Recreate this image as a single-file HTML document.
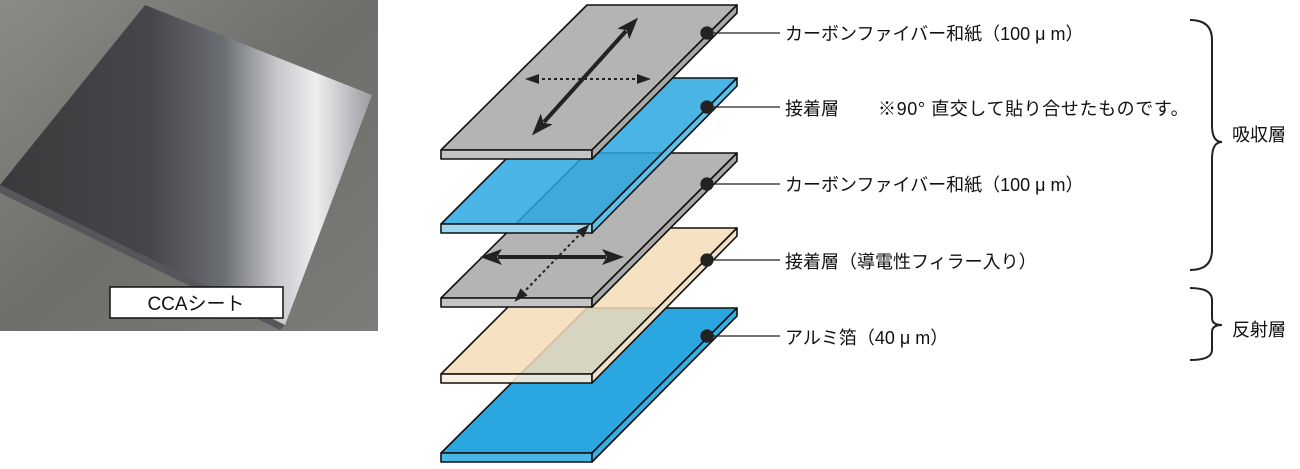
<!DOCTYPE html>
<html><head><meta charset="utf-8"><style>
html,body{margin:0;padding:0;background:#fff;width:1300px;height:469px;overflow:hidden}
svg{display:block}
text{font-family:"Liberation Sans","Noto Sans CJK JP",sans-serif;fill:#111}
</style></head><body>
<svg width="1300" height="469" viewBox="0 0 1300 469" xmlns="http://www.w3.org/2000/svg">
<defs>
<linearGradient id="bg" x1="0" y1="0" x2="1" y2="1">
<stop offset="0" stop-color="#8a8a86"/><stop offset="0.5" stop-color="#6e6e6a"/><stop offset="1" stop-color="#7c7c78"/></linearGradient>
<linearGradient id="foil" x1="0" y1="0" x2="1" y2="0">
<stop offset="0" stop-color="#3a3a3c"/><stop offset="0.4" stop-color="#45464a"/><stop offset="0.6" stop-color="#6a6d72"/><stop offset="0.75" stop-color="#c8cace"/><stop offset="0.85" stop-color="#eeeef0"/><stop offset="1" stop-color="#9a9ca0"/></linearGradient>
<marker id="ahB" markerUnits="userSpaceOnUse" markerWidth="22" markerHeight="16" refX="4" refY="8" orient="auto-start-reverse"><path d="M0,0 L22,8 L0,16 L5,8 Z" fill="#222"/></marker>
<marker id="ahS" markerUnits="userSpaceOnUse" markerWidth="14" markerHeight="10" refX="3" refY="5" orient="auto-start-reverse"><path d="M0,0 L14,5 L0,10 Z" fill="#222"/></marker>
</defs>
<rect x="0" y="0" width="378" height="331" fill="url(#bg)"/>
<polygon points="145,5 372,95 285,325 0,185" fill="url(#foil)"/>
<polygon points="0,185 285,325 280,330 0,193" fill="#55575a"/>
<rect x="110" y="287" width="173" height="31" fill="#fff" stroke="#111" stroke-width="1.5"/>
<text x="196" y="310" font-size="19" text-anchor="middle">CCAシート</text>

<g stroke="#111" stroke-width="1.6" stroke-linejoin="round">
<polygon points="587,308 737,308 592,453 441,453" fill="#2aa7e0"/>
<polygon points="441,453 592,453 592,462 441,462" fill="#4ab6e6"/>
<polygon points="592,453 737,308 737,316 592,462" fill="#3aaee3"/>
<polygon points="587,228 737,228 592,374 441,374" fill="#f6dcb8" fill-opacity="0.85"/>
<polygon points="441,374 592,374 592,383 441,383" fill="#fbeedc" fill-opacity="0.9"/>
<polygon points="592,374 737,228 737,236 592,383" fill="#f0e0c8"/>
<polygon points="587,153 737,153 592,298 441,298" fill="#b4b4b4"/>
<polygon points="441,298 592,298 592,307 441,307" fill="#c4c4c4"/>
<polygon points="592,298 737,153 737,161 592,307" fill="#a8a8a8"/>
<polygon points="587,78 737,78 592,224 441,224" fill="#2aa7e0" fill-opacity="0.85"/>
<polygon points="441,224 592,224 592,233 441,233" fill="#9fd6f0"/>
<polygon points="592,224 737,78 737,86 592,233" fill="#5dc0ea"/>
<polygon points="587,5 737,5 592,150 441,150" fill="#b4b4b4"/>
<polygon points="441,150 592,150 592,159 441,159" fill="#c4c4c4"/>
<polygon points="592,150 737,5 737,13 592,159" fill="#a8a8a8"/>
</g>
<g stroke="#222" fill="none">
<line x1="544" y1="122" x2="626" y2="31" stroke-width="4" marker-end="url(#ahB)" marker-start="url(#ahB)"/>
<line x1="536" y1="79" x2="640" y2="79" stroke-width="2" stroke-dasharray="3,3" marker-end="url(#ahS)" marker-start="url(#ahS)"/>
<line x1="498" y1="257" x2="606" y2="257" stroke-width="4" marker-end="url(#ahB)" marker-start="url(#ahB)"/>
<line x1="522" y1="294" x2="582" y2="232" stroke-width="2" stroke-dasharray="3,3" marker-end="url(#ahS)" marker-start="url(#ahS)"/>
</g>
<g fill="#222" stroke="#222" stroke-width="1.3">
<circle cx="707" cy="33" r="6"/><line x1="707" y1="33" x2="780" y2="33"/>
<circle cx="707" cy="107" r="6"/><line x1="707" y1="107" x2="780" y2="107"/>
<circle cx="707" cy="184" r="6"/><line x1="707" y1="184" x2="780" y2="184"/>
<circle cx="707" cy="260" r="6"/><line x1="707" y1="260" x2="780" y2="260"/>
<circle cx="707" cy="336" r="6"/><line x1="707" y1="336" x2="780" y2="336"/>
</g>
<g font-size="18">
<text x="785" y="40">カーボンファイバー和紙（100 μ m）</text>
<text x="785" y="115">接着層</text>
<text x="878" y="115" letter-spacing="0.6">※90° 直交して貼り合せたものです。</text>
<text x="785" y="191">カーボンファイバー和紙（100 μ m）</text>
<text x="785" y="268">接着層（導電性フィラー入り）</text>
<text x="785" y="344">アルミ箔（40 μ m）</text>
<text x="1232" y="141">吸収層</text>
<text x="1232" y="336">反射層</text>
</g>
<g fill="none" stroke="#222" stroke-width="2">
<path d="M1190,20 Q1212,20 1212,40 L1212,125 Q1212,142 1222,142 Q1212,142 1212,159 L1212,250 Q1212,270 1190,270"/>
<path d="M1190,288 Q1212,288 1212,300 L1212,318 Q1212,325 1222,325 Q1212,325 1212,332 L1212,350 Q1212,360 1190,360"/>
</g>
</svg>
</body></html>
